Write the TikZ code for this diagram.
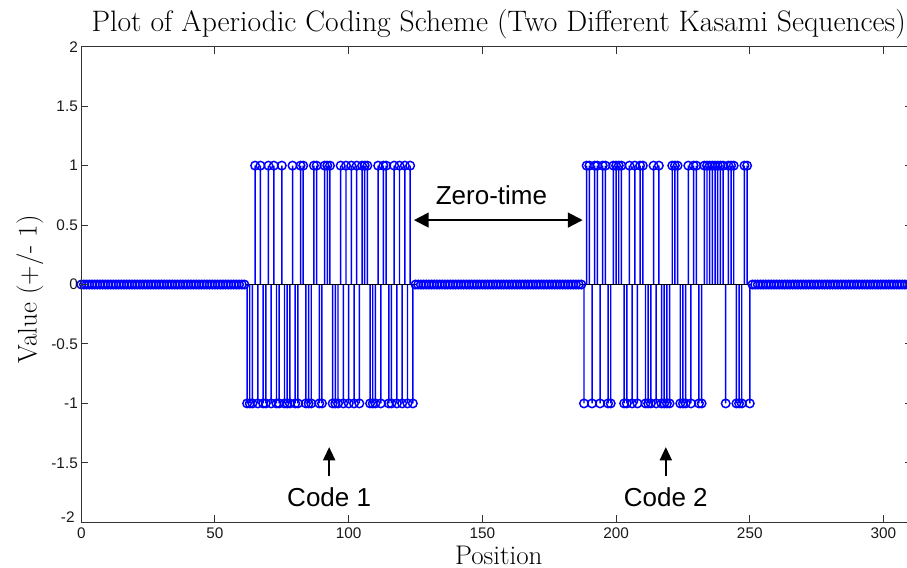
\documentclass[tikz,border=0pt]{standalone}
\usepackage{fontspec}
\newfontfamily\ticksf{Liberation Sans}
\usetikzlibrary{arrows.meta}

\tikzset{
  stem/.style={blue, line width=1.1pt},
  axisline/.style={black!80, line width=0.75pt},
  ticklab/.style={font=\ticksf\fontsize{11.5}{13}\selectfont, text=black!90, inner sep=0pt},
  seriflab/.style={font=\fontsize{20.2}{24}\selectfont, inner sep=0pt},
  annlab/.style={font=\ticksf\fontsize{19.5}{23}\selectfont},
  annarrow/.style={line width=1.5pt, line cap=butt}
}

\begin{document}
\begin{tikzpicture}[x=2.0055pt, y=89.175pt]

    \useasboundingbox (-30.4,-2.384) rectangle (308.8,2.393);
    \clip (-30.4,-2.384) rectangle (308.8,2.393);

    % code 1
    \foreach \x in {65,67,70,72,75,79,82,83,87,88,91,92,93,97,99,101,103,105,106,107,111,113,114,117,119,121,123}
        \draw[stem] (\x,0) -- (\x,1) circle (3.2pt);
    \foreach \x in {62,63,64,66,68,69,71,73,74,76,77,78,80,81,84,85,86,89,90,94,95,96,98,100,102,104,108,109,110,112,115,116,118,120,122,124}
        \draw[stem] (\x,0) -- (\x,-1) circle (3.2pt);

    % code 2
    \foreach \x in {189,190,192,193,195,196,199,200,201,202,205,207,209,210,214,216,221,222,223,227,229,230,233,234,235,236,237,238,239,240,242,243,244,248,249}
        \draw[stem] (\x,0) -- (\x,1) circle (3.2pt);
    \foreach \x in {188,191,194,197,198,203,204,206,208,211,212,213,215,217,218,219,220,224,225,226,228,231,232,241,245,246,247,250}
        \draw[stem] (\x,0) -- (\x,-1) circle (3.2pt);

    \draw[black, line width=0.7pt] (61.5,0) -- (125,0);
    \draw[black, line width=0.7pt] (187,0) -- (251,0);

    % zero padding
    \foreach \x in {0,...,61} \draw[stem] (\x,0) circle (3.2pt);
    \foreach \x in {125,...,187} \draw[stem] (\x,0) circle (3.2pt);
    \foreach \x in {251,...,312} \draw[stem] (\x,0) circle (3.2pt);

    % axes
    \draw[axisline] (0,-2) rectangle (310.8,2);
    \foreach \x in {0,50,...,300} {
        \draw[axisline] (\x,-2) -- (\x,-1.941);
        \draw[axisline] (\x,2) -- (\x,1.941);
        \node[ticklab, anchor=north] (xt\x) at (\x,-2.04) {\x};
    }
    \foreach \y in {-2,-1.5,...,2} {
        \draw[axisline] (0,\y) -- (2.62,\y);
        \draw[axisline] (310.8,\y) -- (308.18,\y);
    }
    \foreach \y/\t [count=\i] in {-1.5/-1.5,-1/-1,-0.5/-0.5,0/0,0.5/0.5,1/1,1.5/1.5,2/2}
        \node[ticklab, anchor=east] (yt\i) at (-1.2,\y) {\t};
    \node[ticklab, anchor=south east] (ytb) at (-2.4,-2) {-2};

    % labels
    \node[seriflab, font=\fontsize{22.2}{26}\selectfont, anchor=base] (title) at (156.1,2.124) {Plot of Aperiodic Coding Scheme (Two Different Kasami Sequences)};
    \node[seriflab, rotate=90] (ylab) at (-19.2,-0.04) {Value (+/- 1)};
    \node[seriflab, anchor=base] (xlab) at (156.1,-2.355) {Position};

    % annotations
    \node[annlab, anchor=base] (zt) at (153.4,0.677) {Zero-time};
    \coordinate (ztl) at (124.4,0.542);
    \coordinate (ztr) at (187.5,0.542);
    \draw[annarrow, {Triangle[length=11pt,width=11pt]}-{Triangle[length=11pt,width=11pt]}] (ztl) -- (ztr);

    \node[annlab, anchor=base] (code1) at (92.7,-1.863) {Code 1};
    \coordinate (code1tip) at (92.7,-1.367);
    \draw[annarrow, -{Triangle[length=10pt,width=9pt]}] ([yshift=4.5pt]code1.north) -- (code1tip);

    \node[annlab, anchor=base] (code2) at (218.6,-1.863) {Code 2};
    \coordinate (code2tip) at (218.6,-1.367);
    \draw[annarrow, -{Triangle[length=10pt,width=9pt]}] ([yshift=4.5pt]code2.north) -- (code2tip);

\end{tikzpicture}
\end{document}
